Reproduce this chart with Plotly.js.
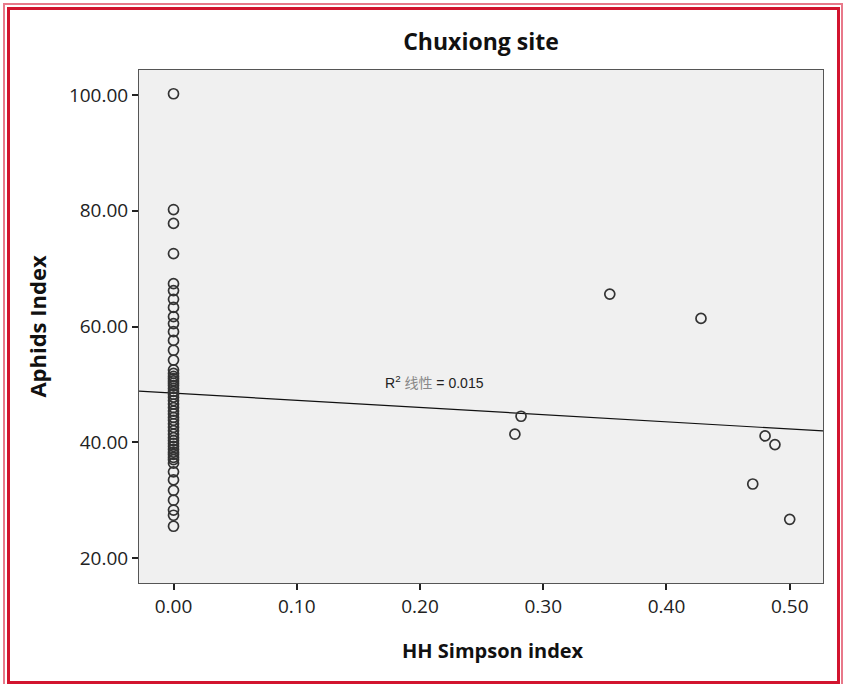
<!DOCTYPE html>
<html>
<head>
<meta charset="utf-8">
<script src="https://cdn.plot.ly/plotly-3.0.1.min.js"></script>
<style>
  html, body { margin: 0; padding: 0; background: #fff; }
  #wrap { position: relative; width: 844px; height: 684px; overflow: hidden; }
  #chart { position: absolute; left: 0; top: 0; width: 844px; height: 684px; }
  .frame { position: absolute; pointer-events: none; box-sizing: border-box; }
</style>
</head>
<body>
<div id="wrap">
  <div id="chart"></div>
  <div class="frame" style="left:3px; top:3px; width:840px; height:690px; border:2px solid #e8798a;"></div>
  <div class="frame" style="left:7px; top:7px; width:833px; height:677px; border:3px solid #d2142e;"></div>
</div>
<script>
// Data
var zeroSiteX = 0.0;
var zeroSiteY = [100.2, 80.2, 77.8, 72.6, 67.4, 66.2, 64.7, 63.3, 61.7, 60.5, 59.1, 57.6, 55.9, 54.2, 52.5,
  51.9, 51.4, 51.0, 50.6, 50.2, 49.8, 49.3, 48.8, 48.3, 47.8, 47.2, 46.6, 46.0, 45.4, 44.9, 44.3,
  43.8, 43.2, 42.6, 42.0, 41.4, 40.8, 40.3, 39.8, 39.3, 38.8, 38.3, 37.9, 37.4, 37.0,
  36.4, 34.9, 33.5, 31.7, 30.0, 28.3, 27.4, 25.5];
var otherX = [0.277, 0.282, 0.354, 0.428, 0.470, 0.480, 0.488, 0.500];
var otherY = [41.4, 44.5, 65.6, 61.4, 32.8, 41.1, 39.6, 26.7];
var fitIntercept = 48.5;
var fitSlope = -12.4;
var rSquared = "0.015";
var xRange = [-0.028, 0.527];
var yRange = [15.7, 104.3];
var xTicks = [0, 0.1, 0.2, 0.3, 0.4, 0.5];
var yTicks = [20, 40, 60, 80, 100];

var allX = zeroSiteY.map(function(){ return zeroSiteX; }).concat(otherX);
var allY = zeroSiteY.concat(otherY);

var fitX = xRange.slice();
var fitY = fitX.map(function(x){ return fitIntercept + fitSlope * x; });

var tickFont = {family: "Open Sans, Noto Sans, sans-serif", size: 19, color: "#222"};
var xTitleFont = {family: "Open Sans, Noto Sans, sans-serif", size: 20, color: "#111", weight: "bold"};
var yTitleFont = {family: "Open Sans, Noto Sans, sans-serif", size: 22, color: "#111", weight: "bold"};

var traces = [
  {
    x: fitX, y: fitY, mode: "lines", type: "scatter",
    line: {color: "#111", width: 1.2}, hoverinfo: "skip", showlegend: false
  },
  {
    x: allX, y: allY, mode: "markers", type: "scatter",
    marker: {symbol: "circle-open", size: 10, color: "#333", line: {width: 1.7, color: "#333"}},
    showlegend: false
  }
];

var layout = {
  width: 844, height: 684,
  margin: {l: 139, r: 21, t: 70, b: 101, pad: 0},
  paper_bgcolor: "#ffffff",
  plot_bgcolor: "#f0f0f0",
  showlegend: false,
  title: {
    text: "Chuxiong site",
    font: {family: "Open Sans, Noto Sans, sans-serif", size: 23, color: "#111", weight: "bold"},
    x: 481/844, xref: "container", xanchor: "center",
    y: 1 - 42/684, yref: "container", yanchor: "middle"
  },
  xaxis: {
    range: xRange, tickvals: xTicks, tickformat: ".2f",
    showgrid: false, zeroline: false,
    showline: true, linecolor: "#555", linewidth: 1, mirror: true,
    ticks: "outside", ticklen: 6, tickwidth: 2, tickcolor: "#222",
    tickfont: tickFont
  },
  yaxis: {
    range: yRange, tickvals: yTicks, tickformat: ".2f",
    showgrid: false, zeroline: false,
    showline: true, linecolor: "#555", linewidth: 1, mirror: true,
    ticks: "outside", ticklen: 6, tickwidth: 2, tickcolor: "#222",
    tickfont: tickFont,
    title: {text: "Aphids Index", font: yTitleFont, standoff: 16}
  },
  annotations: [
    {
      x: (493 - 139) / 684, y: -(650 - 583) / 513, xref: "paper", yref: "paper",
      xanchor: "center", yanchor: "middle", showarrow: false,
      text: "HH Simpson index", font: xTitleFont
    },
    {
      x: 0.170, y: 50.4, xref: "x", yref: "y", xanchor: "left", yanchor: "middle",
      showarrow: false,
      text: "R<sup>2</sup> <span style='color:#888'>线性</span> = " + rSquared,
      font: {family: "Liberation Sans, Arial, Noto Sans CJK SC, sans-serif", size: 14, color: "#222"}
    }
  ]
};

Plotly.newPlot("chart", traces, layout, {displayModeBar: false, staticPlot: true});
</script>
</body>
</html>
